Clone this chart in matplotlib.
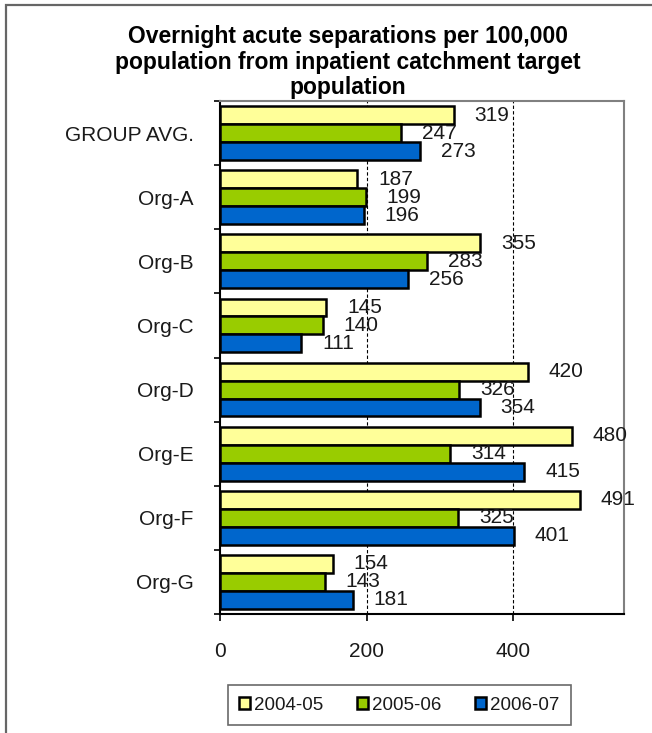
import matplotlib
matplotlib.use("Agg")
import matplotlib.pyplot as plt
from matplotlib.patches import Rectangle, Patch
import numpy as np

plt.rcParams['font.family'] = ['Liberation Sans', 'DejaVu Sans']

categories = ["GROUP AVG.", "Org-A", "Org-B", "Org-C", "Org-D", "Org-E", "Org-F", "Org-G"]
series_names = ["2004-05", "2005-06", "2006-07"]
v_2004_05 = [319, 187, 355, 145, 420, 480, 491, 154]
v_2005_06 = [247, 199, 283, 140, 326, 314, 325, 143]
v_2006_07 = [273, 196, 256, 111, 354, 415, 401, 181]
colors = ["#FFFF99", "#99CC00", "#0066CC"]
x_ticks = [0, 200, 400]

W, H = 652, 733
fig = plt.figure(figsize=(W / 100, H / 100), dpi=100)

# outer frame (left & top visible)
fig.patches.append(Rectangle((6 / W, -0.05), 1.2, 1 - 5 / H + 0.05,
                             transform=fig.transFigure, fill=False,
                             edgecolor="#666666", linewidth=1.6))

ax = fig.add_axes([220 / W, 1 - 614 / H, (624 - 220) / W, (614 - 101) / H])

y = np.arange(len(categories))
bh = 0.28
all_vals = [v_2004_05, v_2005_06, v_2006_07]
for k, (vals, col, name) in enumerate(zip(all_vals, colors, series_names)):
    pos = y + (k - 1) * bh
    ax.barh(pos, vals, height=bh, color=col, edgecolor="black",
            linewidth=1.8, label=name, zorder=3)
    for p, v in zip(pos, vals):
        ax.annotate(str(v), xy=(v, p), xytext=(15, 0), textcoords="offset points",
                    ha="left", va="center", fontsize=15, color="#1a1a1a",
                    zorder=4, annotation_clip=False)

ax.set_xlim(0, 551)
ax.set_ylim(len(categories) - 0.5, -0.5)
ax.set_xticks(x_ticks)
ax.set_xticklabels([str(t) for t in x_ticks], fontsize=15, color="#1a1a1a")
ax.set_yticks(y)
ax.set_yticklabels(categories, fontsize=15, color="#1a1a1a")
ax.set_yticks(np.arange(len(categories) + 1) - 0.5, minor=True)
ax.tick_params(axis="y", which="major", length=0, pad=19)
ax.tick_params(axis="y", which="minor", length=4.5, width=1.2, direction="out")
ax.tick_params(axis="x", which="major", length=5, width=1.2, pad=15, direction="out")

for g in [200, 400]:
    ax.axvline(g, color="black", linestyle=(0, (3, 2)), linewidth=0.8, zorder=1)

ax.spines["left"].set_color("black")
ax.spines["left"].set_linewidth(1.5)
ax.spines["bottom"].set_color("black")
ax.spines["bottom"].set_linewidth(1.5)
ax.spines["top"].set_color("#808080")
ax.spines["top"].set_linewidth(1.5)
ax.spines["right"].set_color("#808080")
ax.spines["right"].set_linewidth(1.5)

fig.text(348 / W, 1 - 62 / H,
         "Overnight acute separations per 100,000\npopulation from inpatient catchment target\npopulation",
         ha="center", va="center", fontsize=16.5, fontweight="bold", linespacing=1.15)

handles = [Patch(facecolor=c, edgecolor="black", linewidth=1.8) for c in colors]
leg = fig.legend(handles, series_names, loc="center", bbox_to_anchor=(399 / W, 1 - 705 / H),
                 ncol=3, fontsize=13.5, frameon=True, fancybox=False,
                 handlelength=0.6, handleheight=0.6, handletextpad=0.2,
                 columnspacing=1.8, borderpad=0.6)
for t in leg.get_texts():
    t.set_color("#1a1a1a")
leg.get_frame().set_edgecolor("#444444")
leg.get_frame().set_linewidth(1.2)

fig.savefig("out.png", dpi=100)
